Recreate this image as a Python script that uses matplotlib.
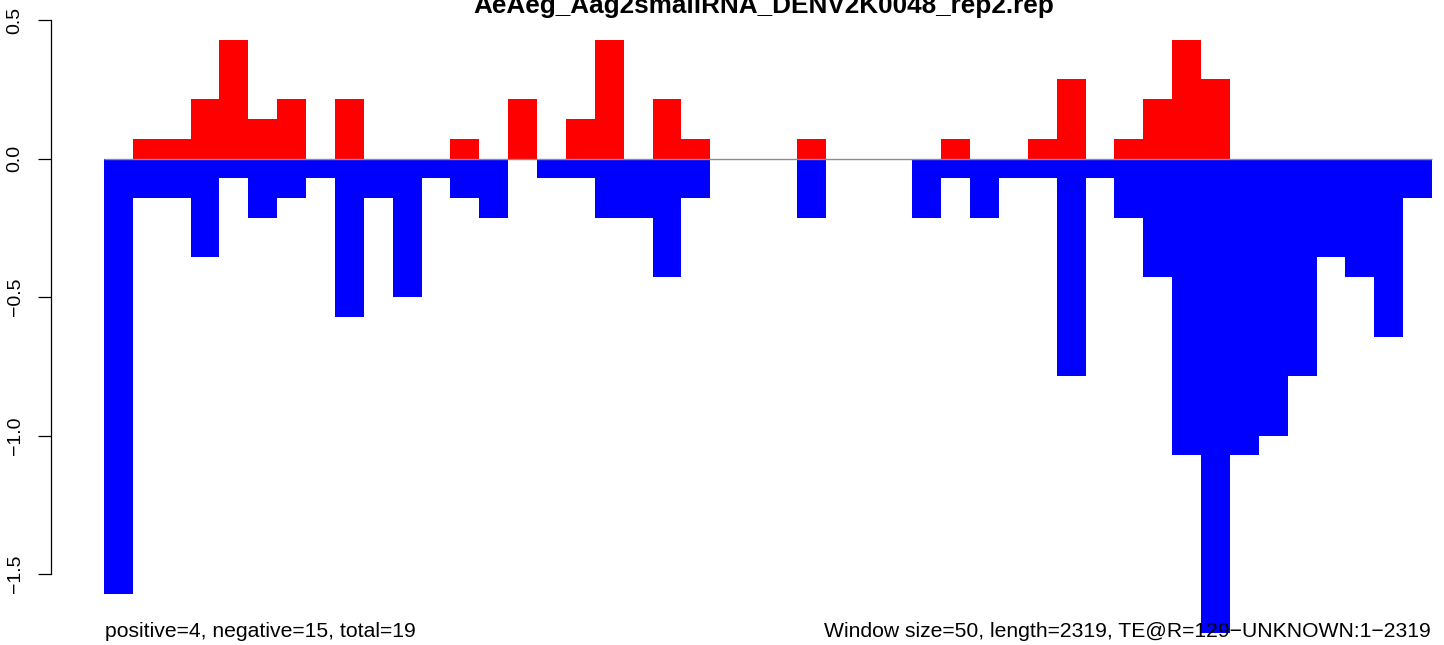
import numpy as np
import matplotlib
matplotlib.use("Agg")
import matplotlib.pyplot as plt

plt.rcParams['font.family'] = ['Liberation Sans', 'DejaVu Sans']

# window size 50 nt, 46 windows
win_size = 50
pos_vals = [0, 0.071, 0.071, 0.214, 0.429, 0.143, 0.214, 0, 0.214, 0,
            0, 0, 0.071, 0, 0.214, 0, 0.143, 0.429, 0, 0.214,
            0.071, 0, 0, 0, 0.071, 0, 0, 0, 0, 0.071,
            0, 0, 0.071, 0.286, 0, 0.071, 0.214, 0.429, 0.286, 0,
            0, 0, 0, 0, 0, 0]
neg_vals = [-1.571, -0.143, -0.143, -0.357, -0.071, -0.214, -0.143, -0.071, -0.571, -0.143,
            -0.5, -0.071, -0.143, -0.214, 0, -0.071, -0.071, -0.214, -0.214, -0.429,
            -0.143, 0, 0, 0, -0.214, 0, 0, 0, -0.214, -0.071,
            -0.214, -0.071, -0.071, -0.786, -0.071, -0.214, -0.429, -1.071, -1.714, -1.071,
            -1.0, -0.786, -0.357, -0.429, -0.643, -0.143]
y_ticks = [-1.5, -1.0, -0.5, 0.0, 0.5]
title = "AeAeg_Aag2smallRNA_DENV2K0048_rep2.rep"
left_note = "positive=4, negative=15, total=19"
right_note = "Window size=50, length=2319, TE@R=129\u2212UNKNOWN:1\u22122319"

W, H = 1444, 645
fig = plt.figure(figsize=(W / 100, H / 100), dpi=100)
ax = fig.add_axes([50.7 / W, 0, 1 - 50.7 / W, 1])

starts = np.arange(len(pos_vals)) * win_size
ax.bar(starts, pos_vals, width=win_size, align='edge', color='#ff0000', linewidth=0, zorder=2)
ax.bar(starts, neg_vals, width=win_size, align='edge', color='#0000ff', linewidth=0, zorder=2)
ax.hlines(0, 0, len(pos_vals) * win_size, color='#8c8c8c', linewidth=1.0, zorder=3)

px_per_nt = 28.87 / win_size
ax.set_xlim(-(104 - 50.7) / px_per_nt, (W - 104) / px_per_nt)
ax.set_ylim(-(H - 158.5) / 277.0, 158.5 / 277.0)

for s in ['top', 'right', 'bottom']:
    ax.spines[s].set_visible(False)
ax.spines['left'].set_bounds(-1.5, 0.5)
ax.spines['left'].set_linewidth(0.9)
ax.set_xticks([])
ax.set_yticks(y_ticks)
ax.set_yticklabels([f"{v:.1f}".replace('-', '\u2212') for v in y_ticks],
                   rotation=90, va='center', fontsize=14)
ax.tick_params(axis='y', length=9.5, width=0.9, pad=10)
ax.patch.set_alpha(0)

fig.text(763.7 / W, 1 - 12.5 / H, title, ha='center', va='baseline',
         fontsize=18.8, fontweight='bold')
fig.text(104.7 / W, 1 - 636.7 / H, left_note, ha='left', va='baseline', fontsize=15.2)
fig.text(1430.5 / W, 1 - 636.7 / H, right_note, ha='right', va='baseline', fontsize=15.2)

fig.savefig("out.png", dpi=100)
